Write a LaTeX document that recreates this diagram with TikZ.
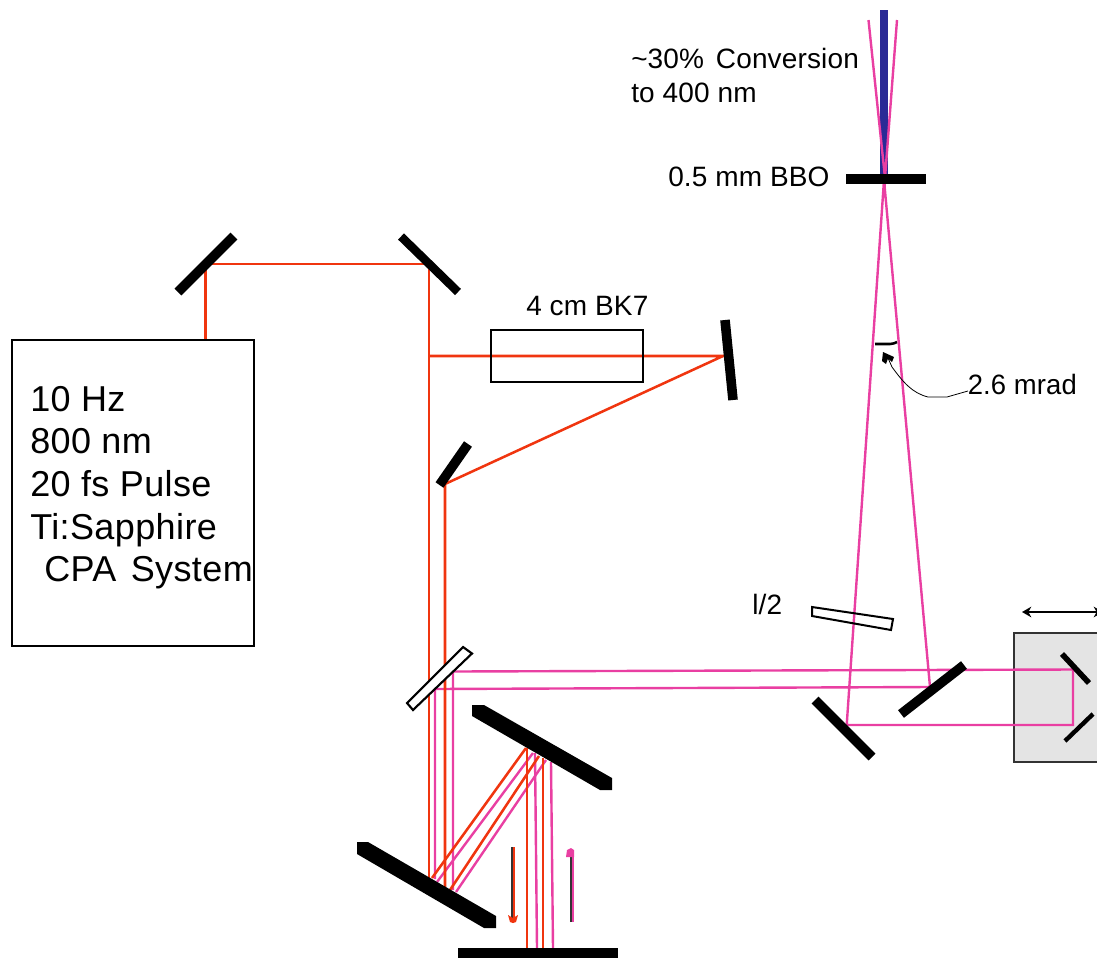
\documentclass[tikz,border=0pt]{standalone}
\usepackage{fontspec}
\setmainfont{Liberation Sans}
\newfontfamily\bigfont[LetterSpace=1.1]{Liberation Sans}
\newfontfamily\smallfont[LetterSpace=0.5]{Liberation Sans}
\usetikzlibrary{arrows.meta}
\definecolor{beamred}{HTML}{F0350F}
\definecolor{beampink}{HTML}{E93FA2}
\definecolor{beamblue}{HTML}{2A2A96}
\definecolor{stagegray}{HTML}{E4E4E4}
\tikzset{
  x=0.75pt,y=-0.75pt,
  redbeam/.style={draw=beamred,line width=1.9pt,line join=miter},
  pinkbeam/.style={draw=beampink,line width=1.8pt,line join=miter},
  mirror/.style={draw=black,line width=7.2pt},
  blackpart/.style={fill=black,draw=none},
  openpart/.style={draw=black,line width=1.6pt,fill=white},
  boxline/.style={draw=black,line width=1.3pt},
  biglabel/.style={anchor=base west,inner sep=0pt,font=\bigfont\fontsize{27}{27}\selectfont},
  smalllabel/.style={anchor=base west,inner sep=0pt,font=\smallfont\fontsize{21}{21}\selectfont},
}
\begin{document}
\begin{tikzpicture}
\useasboundingbox (0,0) rectangle (1097,958);
\clip (0,0) rectangle (1097,958);
% stage
\path[fill=stagegray,draw=black!80,line width=1.4pt] (1014,633) rectangle (1110,762);
% beams: pink
\draw[pinkbeam] (435,879) -- (435,689) -- (930,687) -- (884,180) -- (846.7,725) -- (1073,725) -- (1073,669.5) -- (453,671.5) -- (453,890);
\draw[pinkbeam] (437,882) -- (533,753);
\draw[pinkbeam] (456,892) -- (546,760);
\draw[pinkbeam] (535,753) -- (537,948);
\draw[pinkbeam] (551,762) -- (553,948);
% beam after BBO
\draw[draw=beamblue,line width=6.4pt] (883.8,10) -- (883.8,174);
\draw[pinkbeam] (868.5,20) -- (885,178) -- (897,20);
\draw[pinkbeam] (884.5,174) -- (884.5,190);
% beams: red
\draw[redbeam] (205.5,340) -- (205.5,264) -- (429,264) -- (429,878);
\draw[redbeam] (429,356) -- (723,356) -- (445,484) -- (445,887);
\draw[redbeam] (432,878) -- (526,748);
\draw[redbeam] (450,890) -- (539,756);
\draw[redbeam] (527,748) -- (527,948);
\draw[redbeam] (543,758) -- (543,948);
% laser box and BK7
\draw[boxline] (12,340) rectangle (254,646);
\draw[boxline] (491,330) rectangle (643,382);
% mirrors
\draw[mirror] (178,292) -- (234,236);
\draw[mirror,line width=6.4pt] (401,236.5) -- (458,292);
\draw[mirror] (725,320) -- (733,400);
\draw[mirror] (439.5,485) -- (468,444);
\draw[mirror] (901,714) -- (964,665);
\draw[mirror] (815,700) -- (872,757);
\draw[draw=black,line width=4.2pt] (1062,654) -- (1089,683);
\draw[draw=black,line width=3.3pt] (1065,741) -- (1093,714);
% beam splitter, wave plate
\draw[openpart] (463,647) -- (472,653.5) -- (413,710) -- (407,703) -- cycle;
\path[draw=black,line width=1.5pt] (812,607) -- (893,619) -- (891,630) -- (812,616) -- cycle;
% BBO and gratings
\fill[blackpart] (846,174) rectangle (926,184);
\fill[blackpart] (357,842) -- (368,842) -- (496,916) -- (496,928) -- (484,928) -- (357,854) -- cycle;
\fill[blackpart] (472,705) -- (484,705) -- (612,778) -- (612,790) -- (600,790) -- (472,716) -- cycle;
\fill[blackpart] (458,948) rectangle (618,958);
% direction arrows
\draw[draw=black!80,line width=1.4pt] (512.4,847) -- (512.4,918);
\draw[draw=beamred,line width=1.1pt] (513.9,847) -- (513.9,918);
\fill[beamred] (508,915) -- (513,918) -- (518,915) -- (516,922) -- (513,923) -- (510,922) -- cycle;
\draw[draw=black!80,line width=1.3pt] (571.1,922) -- (571.1,853);
\draw[draw=beampink,line width=1.2pt] (572.7,922) -- (572.7,853);
\fill[beampink] (566,857) -- (567,850) -- (571,848) -- (574,850) -- (574,857) -- cycle;
% translation arrow
\draw[draw=black,line width=2.2pt,{Stealth[length=7pt,width=8pt]}-{Stealth[length=7pt,width=8pt]}] (1022,612) -- (1103,612);
% divergence angle mark
\draw[draw=black,line width=1.9pt] (875,344) -- (890,344) .. controls (893,344) and (895,343) .. (897,342);
\draw[draw=black,line width=0.6pt] (968,391) -- (947,397) -- (928,397) .. controls (912,393) and (903,382) .. (892,367) -- (888,358);
\fill[black] (883,352) -- (894,357) -- (892,362) -- (888,358.5) -- (886,364) -- (882,361) -- cycle;
% labels
\node[biglabel] (rate) at (30,411) {10 Hz};
\node[biglabel] (wave) at (30,453) {800 nm};
\node[biglabel] (pulse) at (30,496) {20 fs Pulse};
\node[biglabel] (tisa) at (30,539) {Ti:Sapphire};
\node[biglabel] (cpa) at (44,581) {CPA\hspace{3pt} System};
\node[smalllabel] (conv) at (631,68) {\symbol{126}30\%\hspace{3pt} Conversion};
\node[smalllabel] (conv2) at (631,102) {to 400 nm};
\node[smalllabel] (bbo) at (668,186) {0.5 mm BBO};
\node[smalllabel] (bk) at (526,315) {4 cm BK7};
\node[smalllabel,xscale=0.98] (angle) at (967.5,394) {2.6 mrad};
\node[smalllabel] (lam) at (752,614) {l/2};
\end{tikzpicture}
\end{document}
